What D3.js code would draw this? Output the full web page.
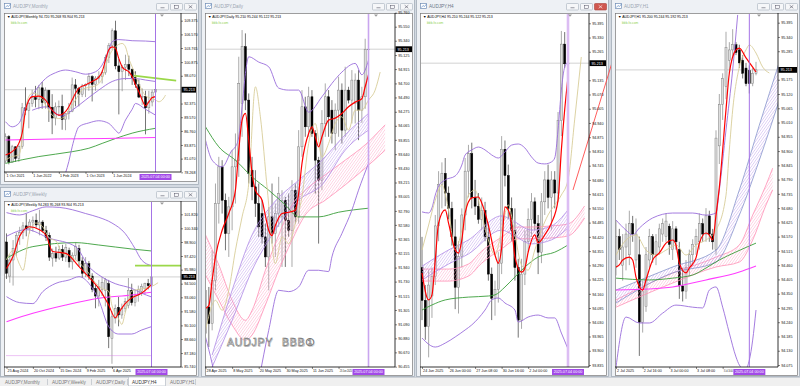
<!DOCTYPE html>
<html>
<head>
<meta charset="utf-8">
<script src="https://cdn.jsdelivr.net/npm/d3@7"></script>
<style>
body { margin: 0; background: #d3d9e1; overflow: hidden; }
</style>
</head>
<body>
<script>
// values
var bid = 95.213;
var nowLabel = "2025.07.04 00:00";
var tagText = "bbb-fx.com";

// ---- Monthly  [open, high, low, close]
var mnCandles = [
  [80.6,86.25,80.1,85.6],[85.6,85.9,79.9,80.3],[80.3,83.9,80.3,83.5],[83.5,83.6,80.4,81.1],
  [81.1,84.0,80.4,83.6],[83.6,92.5,83.1,91.5],[91.5,95.7,90.0,91.0],[91.0,92.7,87.3,92.4],
  [92.4,95.2,91.7,93.6],[93.6,96.0,91.6,93.2],[93.2,96.2,91.2,95.6],[95.6,96.8,91.3,92.6],
  [92.6,95.7,91.3,95.1],[95.1,95.2,88.6,91.6],[91.6,94.3,86.1,89.4],[89.4,92.6,87.9,91.7],
  [91.7,93.0,89.8,91.8],[91.8,94.2,87.0,89.1],[89.1,90.4,86.9,90.3],[90.3,92.5,89.1,90.8],
  [90.8,97.7,90.6,96.2],[96.2,97.4,91.8,95.5],[95.5,95.8,91.8,94.3],[94.3,96.4,93.7,96.0],
  [96.0,96.5,93.7,96.3],[96.3,98.6,95.0,97.9],[97.9,98.2,92.8,96.3],[96.3,98.0,95.0,97.6],
  [97.6,99.0,96.6,97.9],[97.9,99.2,96.5,98.7],[98.7,102.4,98.3,101.8],[101.8,104.8,100.7,104.3],
  [104.3,107.8,103.3,107.3],[107.3,109.37,99.4,100.1],[100.1,101.5,90.15,98.9],[98.9,100.3,94.9,99.8],
  [99.8,102.4,97.2,100.4],[100.4,102.2,98.0,99.4],[99.4,99.6,96.2,97.7],[97.7,99.0,95.6,96.3],
  [96.3,97.3,93.5,93.7],[93.7,95.5,92.1,93.8],[93.8,95.0,86.05,91.5],[91.5,95.0,90.3,92.7],
  [92.7,95.2,91.8,94.72],[94.72,95.268,93.904,95.213]
];
var mnTicks = [109.375,106.570,103.765,100.875,98.070,95.265,92.375,89.570,86.760,83.875,81.070,78.268];
var mnDates = [[0,"1 Oct 2021"],[8,"1 Jun 2022"],[16,"1 Feb 2023"],[24,"1 Oct 2023"],[32,"1 Jun 2024"]];
var mnRed = [[0,81.8],[2,82.5],[4,84.2],[5,86.3],[6,91.0],[7,93.1],[8,93.8],[10,93.9],[12,93.1],[14,91.0],[16,90.0],[17,90.2],[18,90.7],[19,91.7],[20,93.1],[21,94.5],[22,95.5],[24,96.2],[26,96.9],[28,97.8],[29,98.9],[30,101.3],[31,103.4],[32,104.0],[33,103.7],[34,101.6],[35,99.9],[36,99.3],[37,98.9],[38,97.9],[39,96.2],[40,94.8],[41,93.1],[42,91.9],[43,92.7],[44,93.6],[45,93.8]];
var mnTan = [[0,80.8],[2,81.5],[4,81.8],[5,84.9],[6,91.0],[7,93.8],[8,94.5],[10,94.1],[12,92.1],[14,90.0],[16,89.3],[18,89.7],[19,91.0],[21,93.1],[23,95.2],[25,95.7],[27,96.0],[29,97.5],[31,102.0],[33,104.0],[35,104.7],[36,104.0],[37,101.6],[38,99.9],[39,98.2],[40,96.5],[41,95.0],[42,94.0],[43,93.6],[44,93.4],[45,93.1],[46,92.75],[47,93.1],[48,94.1]];
var mnBandUp = [[0,88.65],[2,87.6],[4,88.3],[6,91.7],[8,94.1],[10,96.0],[12,97.5],[15,98.7],[18,99.25],[21,98.9],[24,98.4],[27,98.9],[29,100.3],[31,103.4],[32,105.07],[34,105.5],[38,105.27],[42,105.2],[45,105.07]];
var mnBandMid = [[8,91.0],[12,91.7],[17,89.8],[20,91.0],[24,93.1],[28,95.15],[32,96.9],[36,97.5],[39,97.5],[42,97.2],[45,96.9]];
var mnBandLow = [[18,78.1],[19,80.5],[20,83.5],[21,86.0],[22,87.6],[25,88.4],[28,88.85],[31,88.3],[33,86.9],[34,86.3],[36,89.0],[38,91.2],[39,92.4],[42,91.2],[45,90.0]];
var mnGreen = [[0,80.1],[10,81.5],[20,82.5],[25,83.2],[29,84.2],[33,85.2],[38,86.3],[45,87.3]];
var mnPink = [[0,84.9],[15,85.1],[30,85.2],[45,85.4]];
var mnLevel = [[38.5,98.1],[51.2,97.1]];

// ---- Weekly
var wkCandles = [
  [98.9,99.8,95.0,95.6],[95.3,97.6,94.6,97.0],[97.0,99.1,94.3,98.2],[97.9,99.9,97.4,99.6],
  [99.6,100.5,98.6,99.9],[99.9,101.0,99.2,100.6],[100.6,101.9,99.5,100.3],[100.3,101.3,99.8,101.0],
  [101.0,101.6,100.0,101.2],[101.2,101.9,100.4,100.7],[100.7,102.3,99.6,101.0],[101.0,101.2,99.9,100.1],
  [100.1,100.6,99.0,99.4],[99.6,99.9,96.9,97.3],[97.2,98.2,96.3,97.7],[97.7,98.4,96.8,97.2],
  [97.2,98.5,97.0,98.1],[98.1,98.6,96.9,97.3],[97.3,98.7,96.8,98.3],[98.0,98.3,96.2,96.8],
  [96.8,97.8,96.0,97.5],[97.5,98.9,97.0,98.4],[98.2,98.6,96.3,96.9],[96.9,97.3,95.1,95.6],
  [95.6,97.3,95.2,96.6],[96.6,96.9,94.9,95.3],[95.3,95.6,93.6,93.9],[94.0,94.4,91.9,93.2],
  [93.2,94.9,92.1,94.2],[93.9,95.2,93.2,94.6],[93.8,95.1,92.1,94.9],[94.5,94.9,87.7,88.9],
  [88.7,91.6,86.05,91.0],[90.8,92.3,90.3,91.9],[92.0,93.1,90.0,91.2],[91.2,92.4,90.8,91.9],
  [91.9,93.0,91.5,92.6],[92.2,95.1,91.9,93.8],[93.8,94.5,92.2,92.5],[92.5,93.9,92.1,93.3],
  [93.3,94.3,92.6,93.9],[93.7,94.5,93.2,94.2],[94.0,94.6,93.4,94.5],[94.5,95.0,93.9,94.28],
  [94.283,95.268,93.904,95.213]
];
var wkTicks = [101.820,100.340,98.900,97.420,95.980,94.500,93.060,91.580,90.100,88.660,87.180,85.740];
var wkDates = [[0,"25 Aug 2024"],[8,"20 Oct 2024"],[16,"15 Dec 2024"],[24,"9 Feb 2025"],[32,"6 Apr 2025"]];
var wkRed = [[0,96.1],[2,97.4],[4,99.5],[7,100.5],[10,100.2],[12,99.6],[14,97.9],[18,97.7],[22,96.3],[25,95.2],[28,94.0],[31,92.25],[33,90.9],[34,91.4],[36,92.4],[38,93.0],[41,93.5],[44,94.4]];
var wkTan = [[0,97.0],[2,98.0],[4,96.5],[5,95.9],[7,100.0],[9,100.9],[11,100.5],[13,99.3],[15,99.0],[17,97.7],[19,97.5],[21,97.0],[23,96.4],[25,95.6],[27,94.6],[29,94.0],[31,93.7],[32,92.2],[34,90.8],[35,90.2],[36,91.4],[38,93.7],[40,93.9],[42,94.0],[44,94.2],[46,94.6]];
var wkBandUp = [[0,102.0],[4,101.75],[8,102.2],[12,102.6],[16,102.55],[20,102.3],[24,101.9],[28,101.5],[32,100.9],[36,99.8],[39,98.2],[41,97.0],[44,96.4]];
var wkBandMid = [[0,99.5],[6,100.2],[13,99.3],[21,98.4],[25,96.3],[29,95.2],[33,94.5],[38,94.0],[41,93.5],[44,93.1]];
var wkBandLow = [[0,93.13],[4,92.5],[8,92.4],[11,93.66],[15,94.54],[19,94.89],[22,95.24],[25,94.54],[28,92.78],[31,89.97],[34,89.19],[38,89.19],[41,89.61],[44,89.97]];
var wkGreen = [[0,97.18],[8,98.41],[21,98.83],[28,98.58],[38,98.16],[44,97.95]];
var wkPink = [[0,90.49],[8,91.37],[18,92.25],[28,92.96],[38,93.31],[44,93.59]];
var wkLevel = [[39,96.4],[53,96.4]];
var wkFloor = [[0,86.91],[44,86.91]];

// ---- Daily
var dyCandles = [
  [90.95,92.0,90.75,91.6],[91.35,91.65,90.75,91.1],[91.1,92.2,91.0,91.75],[91.75,93.2,91.6,92.9],
  [92.9,93.6,92.6,93.45],[93.45,93.55,92.75,92.95],[92.95,93.05,92.2,92.45],[92.45,93.0,92.1,92.85],
  [92.85,93.7,92.5,93.45],[93.45,93.95,92.9,93.55],[93.55,95.1,93.3,94.7],[94.4,95.5,93.9,95.25],
  [95.25,95.45,94.3,94.45],[94.45,94.55,93.2,93.35],[93.4,93.6,92.95,93.15],[93.15,93.4,92.7,92.9],
  [92.9,93.2,92.4,92.55],[92.75,92.95,92.3,92.4],[92.4,92.6,91.95,92.1],[92.1,92.85,91.6,92.7],
  [92.7,93.2,92.3,92.45],[92.45,92.9,92.1,92.75],[92.75,93.3,92.55,93.05],[92.7,93.1,91.95,92.95],
  [92.95,93.0,91.95,92.65],[92.65,93.05,92.4,92.5],[92.5,93.25,91.95,93.1],[93.1,93.2,92.6,92.7],
  [92.7,94.0,92.6,93.75],[93.75,94.6,93.6,94.35],[94.35,94.5,93.9,94.05],[94.05,94.65,93.9,94.5],
  [94.5,94.6,93.9,93.95],[93.95,94.0,93.05,93.55],[93.55,93.6,92.3,93.25],[93.25,94.3,93.1,94.1],
  [94.1,94.7,93.9,94.5],[94.5,94.6,93.9,94.2],[94.3,94.45,93.8,93.95],[93.95,94.4,93.7,94.3],
  [94.3,94.8,93.9,94.6],[94.6,94.7,93.8,94.0],[94.0,94.95,93.9,94.6],[94.6,94.65,94.4,94.45],
  [94.45,94.9,94.1,94.75],[94.4,94.85,94.1,94.75],[94.75,94.9,93.85,94.3],[94.3,94.65,94.11,94.5],
  [94.5,95.37,94.32,95.21],[95.210,95.244,95.122,95.213]
];
var dyTicks = [95.760,95.550,95.340,95.125,94.915,94.700,94.490,94.275,94.065,93.855,93.640,93.430,93.215,93.005,92.790,92.580,92.365,92.155,91.940,91.730,91.515,91.305,91.090,90.880,90.670,90.455];
var dyDates = [[0,"28 Apr 2025"],[8,"8 May 2025"],[16,"20 May 2025"],[24,"30 May 2025"],[32,"11 Jun 2025"],[40,"23 Jun 2025"]];
var dyRed = [[0,91.33],[1,91.37],[2,91.75],[3,92.1],[5,92.5],[7,92.75],[9,93.1],[10,93.7],[11,94.15],[12,94.25],[13,93.85],[14,93.35],[15,93.1],[17,92.95],[18,92.72],[19,92.5],[20,92.42],[21,92.57],[23,92.75],[25,92.77],[27,92.8],[28,93.05],[29,93.5],[31,93.95],[32,94.05],[33,93.9],[34,93.75],[35,93.9],[37,94.15],[39,94.18],[41,94.25],[43,94.35],[45,94.42],[47,94.47],[48,94.65],[49,94.83]];
var dyTan = [[0,91.0],[3,91.45],[5,91.3],[7,91.6],[9,92.2],[11,92.7],[13,93.2],[15,94.65],[16.5,94.2],[18.6,93.1],[21,92.0],[23,92.4],[25,92.3],[27,92.6],[29,93.0],[31,93.8],[33,94.1],[35,93.6],[37,93.8],[39,94.1],[41,94.2],[43,94.0],[45,94.3],[47,94.3],[49,94.45],[51,94.6],[52.5,94.87]];
var dyBandUp = [[0,93.85],[2,93.55],[5,93.45],[8,93.7],[9,93.75],[10,93.9],[11,94.35],[12,94.85],[13,95.1],[16,95.02],[19,94.95],[22,94.63],[25,94.6],[28,94.6],[31,94.27],[35,94.5],[38,94.7],[41,94.87],[45,95.0],[47,94.83],[49,95.05]];
var dyBandLow = [[0,90.9],[2,90.5],[4,90.0],[8,89.5],[12,89.3],[16,90.25],[19,91.0],[22,91.6],[25,91.58],[28,91.65],[31,91.9],[34,91.9],[37,91.88],[38,92.1],[41,92.45],[44,92.8],[46,93.1],[49,93.5]];
var dyGreen = [[0,94.05],[4,93.75],[9,93.55],[14,93.3],[19,93.1],[24,92.88],[28,92.7],[34,92.7],[40,92.77],[49,92.83]];
// ribbons: [index, upper edge, lower edge]
var dyPurpleFan = [[2,90.63,90.45],[8,91.6,91.15],[14,92.43,91.9],[20,92.88,92.43],[28,93.25,92.95],[35,93.55,93.18],[42,93.93,93.7],[49,94.25,94.0]];
var dyPinkFan = [[0,92.43,91.83],[4,91.98,91.45],[8,91.45,91.08],[12,91.15,90.85],[14,91.3,90.93],[18,91.9,91.38],[22,92.43,91.9],[26,92.88,92.35],[30,93.1,92.73],[36,93.33,92.95],[42,93.55,93.18],[48,93.78,93.43],[54,94.08,93.7]];

// ---- H4
var h4Candles = [
  [94.28,94.42,94.04,94.13],[94.13,94.20,93.95,94.01],[94.01,94.27,93.87,94.20],[94.15,94.28,94.05,94.24],
  [94.24,94.52,94.20,94.47],[94.47,94.72,94.40,94.66],[94.66,94.76,94.55,94.71],[94.71,94.78,94.56,94.62],
  [94.62,94.65,94.50,94.55],[94.55,94.58,94.38,94.42],[94.42,94.50,94.09,94.19],[94.19,94.40,94.07,94.33],
  [94.33,94.55,94.28,94.52],[94.52,94.78,94.45,94.72],[94.72,94.84,94.60,94.80],[94.80,94.85,94.55,94.60],
  [94.60,94.68,94.52,94.56],[94.56,94.62,94.48,94.50],[94.50,94.60,94.45,94.54],[94.54,94.58,94.40,94.42],
  [94.42,94.48,94.22,94.25],[94.25,94.28,94.04,94.14],[94.14,94.22,94.06,94.18],[94.18,94.35,94.12,94.30],
  [94.30,94.88,94.25,94.82],[94.82,94.86,94.65,94.70],[94.70,94.75,94.50,94.55],[94.55,94.60,94.40,94.45],
  [94.45,94.55,94.22,94.28],[94.28,94.32,93.96,94.04],[94.04,94.32,94.00,94.25],[94.25,94.45,94.20,94.40],
  [94.40,94.55,94.35,94.50],[94.50,94.62,94.42,94.58],[94.58,94.60,94.45,94.48],[94.48,94.52,94.25,94.35],
  [94.35,94.62,94.30,94.58],[94.58,94.72,94.52,94.68],[94.68,94.75,94.55,94.60],[94.60,94.72,94.45,94.68],
  [94.68,94.72,94.55,94.62],[94.62,94.99,94.58,94.95],[94.95,95.36,94.88,95.30],[95.30,95.355,95.19,95.21],
  [95.210,95.244,95.122,95.213]
];
var h4Ticks = [95.395,95.330,95.265,95.200,95.135,95.070,95.005,94.940,94.875,94.810,94.745,94.680,94.615,94.550,94.485,94.420,94.355,94.290,94.225,94.160,94.095,94.030,93.965,93.900,93.835];
var h4Dates = [[0,"24 Jun 2025"],[8,"26 Jun 00:00"],[16,"27 Jun 08:00"],[24,"30 Jun 16:00"],[32,"2 Jul 00:00"]];
var h4BandUp = [[0,94.534],[2,94.529],[3,94.552],[4,94.611],[5,94.652],[7,94.68],[10,94.698],[12,94.748],[13,94.794],[15,94.817],[17,94.83],[19,94.817],[21,94.794],[23,94.78],[25,94.808],[27,94.839],[29,94.844],[31,94.826],[33,94.785],[35,94.757],[37,94.753],[39,94.762],[40,94.78],[41,94.908],[42,95.09],[43,95.195],[44,95.218]];
var h4BandLow = [[0,93.958],[4,93.917],[7,93.935],[10,93.963],[13,93.995],[15,94.018],[19,94.086],[21,94.132],[23,94.141],[25,94.118],[28,94.086],[29,94.031],[32,94.054],[35,94.063],[38,94.05],[40,94.05],[42,93.981],[44,93.908]];
var h4Red = [[0,94.255],[2,94.132],[3,94.155],[4,94.314],[5,94.483],[7,94.543],[8,94.483],[10,94.36],[11,94.346],[12,94.406],[13,94.529],[15,94.598],[17,94.602],[18,94.575],[20,94.474],[22,94.337],[23,94.3],[24,94.37],[25,94.557],[26,94.543],[27,94.474],[28,94.328],[30,94.259],[31,94.277],[32,94.35],[34,94.429],[35,94.393],[37,94.429],[39,94.483],[41,94.588],[42,94.817],[43,95.0],[44,95.15]];
var h4Tan = [[0,94.36],[2,94.474],[4,94.588],[6,94.657],[8,94.543],[10,94.36],[12,94.451],[14,94.611],[16,94.634],[18,94.52],[20,94.406],[22,94.337],[24,94.451],[26,94.566],[28,94.429],[30,94.291],[32,94.268],[34,94.36],[36,94.451],[38,94.52],[40,94.566],[42,94.611],[44,94.68],[46,94.954],[48,95.241]];
var h4Green = [[0,94.086],[3,94.109],[7,94.132],[14,94.145],[20,94.15],[22,94.155],[25,94.191],[28,94.237],[31,94.282],[35,94.328],[40,94.35],[44,94.383]];
var h4PurpleFan = [[0,94.286,94.223],[8,94.36,94.296],[14,94.406,94.342],[24,94.516,94.451],[27,94.497,94.433],[33,94.451,94.388],[39,94.47,94.406],[44,94.543,94.461]];
var h4PinkFan = [[0,94.273,94.218],[8,94.273,94.218],[14,94.296,94.241],[18,94.355,94.3],[24,94.419,94.365],[29,94.465,94.411],[33,94.465,94.411],[39,94.47,94.415],[44,94.479,94.424],[49,94.561,94.506]];
var h4Trend = [[45.5,94.634],[57.5,95.227]];

// ---- H1
var h1Candles = [
  [94.45,94.63,94.42,94.57],[94.57,94.60,94.48,94.52],[94.46,94.58,94.40,94.53],[94.53,94.62,94.44,94.58],
  [94.50,94.67,94.46,94.62],[94.62,94.65,94.55,94.58],[94.48,94.64,94.45,94.58],[94.50,94.57,94.11,94.24],
  [94.24,94.40,94.20,94.36],[94.30,94.53,94.28,94.50],[94.48,94.60,94.45,94.57],[94.57,94.58,94.47,94.50],
  [94.50,94.58,94.46,94.55],[94.53,94.62,94.50,94.60],[94.58,94.64,94.55,94.62],[94.57,94.66,94.55,94.63],
  [94.61,94.62,94.50,94.54],[94.52,94.63,94.48,94.60],[94.60,94.61,94.52,94.55],[94.52,94.55,94.33,94.38],
  [94.38,94.45,94.32,94.36],[94.36,94.48,94.33,94.45],[94.45,94.52,94.42,94.50],[94.50,94.56,94.46,94.54],
  [94.54,94.60,94.50,94.57],[94.55,94.66,94.52,94.62],[94.62,94.64,94.55,94.58],[94.58,94.68,94.55,94.65],
  [94.65,94.67,94.55,94.58],[94.58,94.60,94.52,94.55],[94.52,94.98,94.50,94.95],[94.92,95.12,94.85,95.08],
  [95.08,95.20,95.02,95.18],[95.15,95.36,95.10,95.30],[95.25,95.32,95.20,95.29],[95.29,95.37,95.26,95.31],
  [95.31,95.32,95.27,95.28],[95.29,95.31,95.22,95.24],[95.25,95.27,95.18,95.20],[95.22,95.24,95.15,95.16],
  [95.21,95.23,95.122,95.16],[95.16,95.22,95.15,95.20],[95.200,95.244,95.192,95.213]
];
var h1Ticks = [95.395,95.340,95.285,95.230,95.175,95.120,95.065,95.010,94.955,94.900,94.845,94.790,94.735,94.680,94.625,94.570,94.515,94.460,94.405,94.350,94.295,94.240,94.185,94.130,94.075];
var h1Dates = [[0,"2 Jul 2025"],[8,"2 Jul 16:00"],[16,"3 Jul 00:00"],[24,"3 Jul 08:00"],[32,"3 Jul 16:00"]];
var h1Red = [[0,94.453],[1,94.461],[2,94.48],[4,94.491],[5,94.48],[6,94.414],[8,94.364],[9,94.403],[11,94.48],[13,94.507],[15,94.545],[17,94.557],[18,94.538],[19,94.468],[21,94.43],[22,94.449],[24,94.488],[25,94.545],[27,94.584],[28,94.576],[29,94.557],[30,94.653],[31,94.76],[33,95.06],[34,95.2],[36,95.29],[37,95.297],[39,95.259],[41,95.224],[42,95.205]];
var h1Tan = [[0,94.499],[3,94.557],[6,94.576],[9,94.518],[12,94.499],[15,94.518],[18,94.538],[21,94.499],[24,94.538],[27,94.557],[30,94.595],[33,94.73],[34,94.904],[35,95.058],[37,95.224],[39,95.29],[40,95.309],[42,95.278],[44,95.224],[46,95.201]];
var h1BandUp = [[0,94.634],[3,94.595],[5,94.576],[7,94.603],[11,94.642],[17,94.661],[23,94.661],[27,94.653],[30,94.661],[31,94.75],[33,94.981],[35,95.213],[36.5,95.425]];
var h1BandLow = [[0,94.067],[3,94.26],[7,94.237],[10,94.237],[14,94.275],[18,94.306],[23,94.298],[26,94.295],[28,94.364],[30,94.376],[32,94.298],[34,94.198],[36,94.106],[37,94.075],[38,94.063],[39,94.063],[40,94.094],[41,94.171],[42,94.287]];
var h1Green = [[0,94.41],[10,94.403],[17,94.41],[23,94.422],[27,94.449],[31,94.48],[36,94.511],[42,94.545]];
var h1Pink = [[0,94.364],[10,94.368],[17,94.376],[27,94.403],[37,94.434],[42,94.457]];
var h1PurpleFan = [[0,94.364,94.314],[17,94.453,94.43],[30,94.518,94.472],[37,94.75,94.653],[43,95.0,94.865],[49,95.243,95.097]];
var h1PinkFan = [[0,94.326,94.298],[17,94.43,94.391],[30,94.491,94.453],[37,94.538,94.472],[41,94.653,94.557],[45,94.769,94.692],[47,94.834,94.75]];

var tabNames = ["AUDJPY,Monthly","AUDJPY,Weekly","AUDJPY,Daily","AUDJPY,H4","AUDJPY,H1"];

// ---------------------------------------------------------------
var fmt = d3.format(".3f");
var RED = "#ff0000", TAN = "#d8cd98", BAND = "#9a6ddb", GREEN = "#3a9e3a", MAG = "#ff3cff", LEVEL = "#9bd84a";
var AXIS_FONT = 3.7;

var svg = d3.select("body").append("svg")
  .attr("width", 800).attr("height", 386)
  .attr("font-family", "'Liberation Sans', 'DejaVu Sans', 'Noto Sans CJK JP', sans-serif");
var defs = svg.append("defs");

function hatch(id, color) {
  var p = defs.append("pattern").attr("id", id)
    .attr("width", 2.2).attr("height", 2.2)
    .attr("patternUnits", "userSpaceOnUse")
    .attr("patternTransform", "rotate(35)");
  p.append("line").attr("x1", 0).attr("y1", 0).attr("x2", 0).attr("y2", 2.2)
    .attr("stroke", color).attr("stroke-width", 0.8);
}
hatch("hPurple", "#b894ea");
hatch("hPink", "#ff9cc4");

svg.append("rect").attr("width", 800).attr("height", 386).attr("fill", "#d3d9e1");

var panels = [
  { id: "mn", title: "AUDJPY,Monthly", win: [0, -1, 199, 185], client: [4, 13, 197, 182], plotR: 181, plotB: 172,
    xr: [5.5, 155.5], yd: [109.375, 78.268], yr: [20.7, 172.3], candles: mnCandles, ticks: mnTicks, dates: mnDates,
    sep: 45, sepColor: "#a574e6", sepW: 1,
    ribbons: [],
    lines: [
      { d: mnGreen, c: GREEN, w: 0.9 }, { d: mnPink, c: MAG, w: 1.1 },
      { d: mnBandUp, c: BAND, w: 0.9 }, { d: mnBandMid, c: BAND, w: 0.9 }, { d: mnBandLow, c: BAND, w: 0.9 },
      { d: mnTan, c: TAN, w: 0.9 }, { d: mnRed, c: RED, w: 1.1 }, { d: mnLevel, c: LEVEL, w: 1.8 }
    ] },
  { id: "wk", title: "AUDJPY,Weekly", win: [0, 187, 199, 377], client: [4, 201, 197, 376], plotR: 181, plotB: 367,
    xr: [6.5, 151.5], yd: [101.82, 85.74], yr: [214.3, 366.7], candles: wkCandles, ticks: wkTicks, dates: wkDates,
    sep: 44, sepColor: "#a574e6", sepW: 1,
    ribbons: [],
    lines: [
      { d: wkFloor, c: "#d77ae6", w: 0.9, dash: "1,1" },
      { d: wkGreen, c: GREEN, w: 0.9 }, { d: wkPink, c: MAG, w: 1.1 },
      { d: wkBandUp, c: BAND, w: 0.9 }, { d: wkBandMid, c: BAND, w: 0.9 }, { d: wkBandLow, c: BAND, w: 0.9 },
      { d: wkTan, c: TAN, w: 0.9 }, { d: wkRed, c: RED, w: 1.1 }, { d: wkLevel, c: LEVEL, w: 1.8 }
    ] },
  { id: "dy", title: "AUDJPY,Daily", win: [201, -1, 415, 377], client: [205, 13, 413, 376], plotR: 395, plotB: 367,
    xr: [205.5, 368.5], yd: [95.76, 90.455], yr: [12.7, 366.7], candles: dyCandles, ticks: dyTicks, dates: dyDates,
    sep: 49, sepColor: "#c9a6ef", sepW: 1.6,
    ribbons: [ { d: dyPinkFan, fill: "hPink", edge: "#ff8fb5" }, { d: dyPurpleFan, fill: "hPurple", edge: "#b08ce6" } ],
    lines: [
      { d: dyGreen, c: GREEN, w: 0.9 },
      { d: dyBandUp, c: BAND, w: 0.9 }, { d: dyBandLow, c: BAND, w: 0.9 },
      { d: dyTan, c: TAN, w: 0.9 }, { d: dyRed, c: RED, w: 1.2 }
    ],
    mark: true },
  { id: "h4", title: "AUDJPY,H4", active: true, win: [416, -1, 609, 377], client: [420, 13, 607, 376], plotR: 589, plotB: 367,
    xr: [422, 568], yd: [95.395, 93.835], yr: [23.3, 365], candles: h4Candles, ticks: h4Ticks, dates: h4Dates,
    sep: 44, sepColor: "#dcbdf3", sepW: 2.6,
    ribbons: [ { d: h4PinkFan, fill: "hPink", edge: "#ff8fb5" }, { d: h4PurpleFan, fill: "hPurple", edge: "#b08ce6" } ],
    lines: [
      { d: h4Green, c: GREEN, w: 0.9 },
      { d: h4BandUp, c: BAND, w: 0.9 }, { d: h4BandLow, c: BAND, w: 0.9 },
      { d: h4Tan, c: TAN, w: 0.9 }, { d: h4Red, c: RED, w: 1.2 }
    ],
    trend: h4Trend },
  { id: "h1", title: "AUDJPY,H1", win: [611, -1, 800, 377], client: [615, 13, 798, 376], plotR: 778, plotB: 367,
    xr: [616, 756], yd: [95.395, 94.075], yr: [22.7, 365], candles: h1Candles, ticks: h1Ticks, dates: h1Dates,
    sep: 40, sepColor: "#a574e6", sepW: 1,
    ribbons: [ { d: h1PinkFan, fill: "hPink", edge: "#ff8fb5" }, { d: h1PurpleFan, fill: "hPurple", edge: "#8794cc" } ],
    lines: [
      { d: h1Green, c: GREEN, w: 0.9 }, { d: h1Pink, c: MAG, w: 1.1 },
      { d: h1BandUp, c: BAND, w: 0.9 }, { d: h1BandLow, c: BAND, w: 0.9 },
      { d: h1Tan, c: TAN, w: 0.9 }, { d: h1Red, c: RED, w: 1.2 }
    ] }
];

function drawPanel(p) {
  var win = p.win, cl = p.client, top = win[1];
  var g = svg.append("g");

  // window frame and title bar
  g.append("rect").attr("x", win[0] + 0.5).attr("y", top + 0.5)
    .attr("width", win[2] - win[0] - 1).attr("height", win[3] - top - 1)
    .attr("fill", "#eef1f5").attr("stroke", "#a3adb9").attr("stroke-width", 0.8);
  g.append("rect").attr("x", win[0] + 4.5).attr("y", top + 4.5).attr("width", 6).attr("height", 5)
    .attr("fill", "#fff").attr("stroke", "#6f8db5").attr("stroke-width", 0.7);
  g.append("path").attr("d", "M" + (win[0] + 5.5) + "," + (top + 8.5) + " l1.5,-2 l1.5,1 l2,-2.5")
    .attr("fill", "none").attr("stroke", "#4f7fc0").attr("stroke-width", 0.6);
  g.append("text").attr("x", win[0] + 13).attr("y", top + 9.2)
    .attr("font-size", 4.6).attr("fill", p.active ? "#6a7785" : "#9aa5b1").text(p.title);
  [43, 29, 15].forEach(function (off, k) {
    var bx = win[2] - off, by = top + 4;
    var red = k === 2 && p.active;
    g.append("rect").attr("x", bx + 0.5).attr("y", by + 0.5).attr("width", 12).attr("height", 6.5).attr("rx", 0.8)
      .attr("fill", red ? "#d0574f" : "#f6f7f9").attr("stroke", red ? "#a8423b" : "#a4aebb").attr("stroke-width", 0.6);
    var cx = bx + 6.5, cy = by + 3.75;
    if (k === 0) g.append("line").attr("x1", cx - 2).attr("x2", cx + 2).attr("y1", cy + 1).attr("y2", cy + 1).attr("stroke", "#556").attr("stroke-width", 0.6);
    if (k === 1) g.append("rect").attr("x", cx - 2).attr("y", cy - 1.5).attr("width", 4).attr("height", 3).attr("fill", "none").attr("stroke", "#556").attr("stroke-width", 0.5);
    if (k === 2) g.append("path").attr("d", "M" + (cx - 1.8) + "," + (cy - 1.5) + " l3.6,3 M" + (cx + 1.8) + "," + (cy - 1.5) + " l-3.6,3")
      .attr("stroke", red ? "#fff" : "#556").attr("stroke-width", 0.6);
  });

  // client area
  g.append("rect").attr("x", cl[0] + 0.5).attr("y", cl[1] + 0.5)
    .attr("width", cl[2] - cl[0] - 1).attr("height", cl[3] - cl[1] - 1)
    .attr("fill", "#fff").attr("stroke", "#777").attr("stroke-width", 0.7);

  var x = d3.scaleLinear().domain([0, p.candles.length - 1]).range(p.xr);
  var y = d3.scaleLinear().domain(p.yd).range(p.yr);
  var step = (p.xr[1] - p.xr[0]) / (p.candles.length - 1);
  var bw = step * 0.62;

  defs.append("clipPath").attr("id", "clip-" + p.id).append("rect")
    .attr("x", cl[0] + 1).attr("y", cl[1] + 1)
    .attr("width", p.plotR - cl[0] - 1).attr("height", p.plotB - cl[1] - 1);
  var pg = g.append("g").attr("clip-path", "url(#clip-" + p.id + ")");

  // bid line
  pg.append("line").attr("x1", cl[0]).attr("x2", p.plotR).attr("y1", y(bid)).attr("y2", y(bid))
    .attr("stroke", "#c6c6c6").attr("stroke-width", 0.8);

  // candles
  var cg = pg.selectAll(".candle").data(p.candles).enter().append("g").attr("class", "candle");
  cg.append("line")
    .attr("x1", function (d, i) { return x(i); }).attr("x2", function (d, i) { return x(i); })
    .attr("y1", function (d) { return y(d[1]); }).attr("y2", function (d) { return y(d[2]); })
    .attr("stroke", function (d) { return d[3] >= d[0] ? "#858585" : "#3a3a3a"; })
    .attr("stroke-width", 0.7);
  cg.append("rect")
    .attr("x", function (d, i) { return x(i) - bw / 2; })
    .attr("width", bw)
    .attr("y", function (d) { return y(Math.max(d[0], d[3])); })
    .attr("height", function (d) { return Math.max(0.6, Math.abs(y(d[0]) - y(d[3]))); })
    .attr("fill", function (d) { return d[3] >= d[0] ? "#dedede" : "#000"; })
    .attr("stroke", function (d) { return d[3] >= d[0] ? "#7a7a7a" : "#000"; })
    .attr("stroke-width", 0.45);

  // ribbons
  p.ribbons.forEach(function (r) {
    var area = d3.area().x(function (d) { return x(d[0]); })
      .y0(function (d) { return y(d[2]); }).y1(function (d) { return y(d[1]); })
      .curve(d3.curveMonotoneX);
    pg.append("path").datum(r.d).attr("d", area).attr("fill", "url(#" + r.fill + ")").attr("opacity", 0.9);
    [1, 2].forEach(function (k) {
      var ln = d3.line().x(function (d) { return x(d[0]); }).y(function (d) { return y(d[k]); }).curve(d3.curveMonotoneX);
      pg.append("path").datum(r.d).attr("d", ln).attr("fill", "none").attr("stroke", r.edge).attr("stroke-width", 0.8);
    });
  });

  // indicator lines
  var line = d3.line().x(function (d) { return x(d[0]); }).y(function (d) { return y(d[1]); }).curve(d3.curveMonotoneX);
  p.lines.forEach(function (l) {
    pg.append("path").datum(l.d).attr("d", line).attr("fill", "none")
      .attr("stroke", l.c).attr("stroke-width", l.w).attr("stroke-dasharray", l.dash || null);
  });

  // vertical line at the current bar
  pg.append("line").attr("x1", x(p.sep)).attr("x2", x(p.sep)).attr("y1", cl[1]).attr("y2", p.plotB)
    .attr("stroke", p.sepColor).attr("stroke-width", p.sepW);

  // trend line drawn over the price scale
  if (p.trend) {
    defs.append("clipPath").attr("id", "wclip-" + p.id).append("rect")
      .attr("x", cl[0]).attr("y", cl[1]).attr("width", win[2] - cl[0] + 2).attr("height", p.plotB - cl[1]);
    g.append("path").datum(p.trend).attr("clip-path", "url(#wclip-" + p.id + ")")
      .attr("d", d3.line().x(function (d) { return x(d[0]); }).y(function (d) { return y(d[1]); }))
      .attr("fill", "none").attr("stroke", "#ff4b4b").attr("stroke-width", 0.9);
  }

  // watermark
  if (p.mark) {
    var mg = g.append("g").attr("font-size", 10.5).attr("letter-spacing", 0.8);
    [["AUDJPY", 227], ["BBB\u2460", 282]].forEach(function (t) {
      mg.append("text").attr("x", t[1] + 0.8).attr("y", 346.8).attr("fill", "#c9c9c9").text(t[0]);
      mg.append("text").attr("x", t[1]).attr("y", 346).attr("fill", "#f4f4f4")
        .attr("stroke", "#6f6f6f").attr("stroke-width", 0.5).text(t[0]);
    });
  }

  // axes lines
  g.append("line").attr("x1", p.plotR).attr("x2", p.plotR).attr("y1", cl[1]).attr("y2", p.plotB)
    .attr("stroke", "#000").attr("stroke-width", 0.8);
  g.append("line").attr("x1", cl[0]).attr("x2", p.plotR).attr("y1", p.plotB).attr("y2", p.plotB)
    .attr("stroke", "#000").attr("stroke-width", 0.8);

  // price scale: labels hidden behind the bid box are skipped, as in the terminal
  var shown = p.ticks.filter(function (t) { return Math.abs(y(t) - y(bid)) > 4.5; });
  var ya = d3.axisRight(y).tickValues(shown).tickFormat(fmt).tickSize(2).tickPadding(1.2);
  var yg = g.append("g").attr("transform", "translate(" + p.plotR + ",0)").call(ya);
  yg.attr("font-size", AXIS_FONT).attr("font-family", null).attr("color", "#111");
  yg.select(".domain").remove();
  yg.selectAll("line").attr("stroke-width", 0.5);

  var sx = x(p.sep), boxW = 32;
  var xa = d3.axisBottom(x).tickValues(p.dates.map(function (d) { return d[0]; }))
    .tickFormat(function (v, k) { return p.dates[k][1]; }).tickSize(2).tickPadding(0.6);
  var xg = g.append("g").attr("transform", "translate(0," + p.plotB + ")").call(xa);
  xg.attr("font-size", AXIS_FONT).attr("font-family", null).attr("color", "#111");
  xg.select(".domain").remove();
  xg.selectAll("line").attr("stroke-width", 0.5);
  xg.selectAll("text").attr("text-anchor", "start").attr("dx", 0.6)
    .each(function (v) {
      // squeeze a label that would run under the time box
      var room = (sx - boxW / 2 - 1) - (x(v) + 0.6);
      var len = this.getComputedTextLength();
      if (room > 4 && len > room) {
        d3.select(this).attr("textLength", room).attr("lengthAdjust", "spacingAndGlyphs");
      }
    });

  // bid box
  g.append("rect").attr("x", p.plotR + 0.5).attr("y", y(bid) - 2.9).attr("width", cl[2] - p.plotR - 1.5).attr("height", 5.8)
    .attr("fill", "#000");
  g.append("text").attr("x", p.plotR + 2.5).attr("y", y(bid) + 1.4).attr("font-size", AXIS_FONT).attr("fill", "#fff").text(fmt(bid));

  // current time box
  g.append("rect").attr("x", sx - boxW / 2).attr("y", p.plotB + 2).attr("width", boxW).attr("height", 6).attr("fill", "#a24ae8");
  g.append("text").attr("x", sx).attr("y", p.plotB + 6.3).attr("text-anchor", "middle")
    .attr("font-size", AXIS_FONT).attr("fill", "#fff").text(nowLabel);

  // chart shift marker
  var mx = p.plotR - 19;
  g.append("path").attr("d", "M" + (mx - 2) + "," + (cl[1] + 1.5) + " L" + (mx + 2) + "," + (cl[1] + 1.5) + " L" + mx + "," + (cl[1] + 3.8) + "Z")
    .attr("fill", "#9a9a9a");

  // header
  var last = p.candles[p.candles.length - 1];
  g.append("text").attr("x", cl[0] + 3).attr("y", cl[1] + 5.2).attr("font-size", 3.5).attr("fill", "#000")
    .text("\u25BC " + p.title + "  " + last.map(fmt).join(" "));
  g.append("text").attr("x", cl[0] + 7).attr("y", cl[1] + 11).attr("font-size", 3.3).attr("fill", "#8fd14f").text(tagText);
}

panels.forEach(drawPanel);

// tab bar
var tb = svg.append("g");
tb.append("rect").attr("x", 0).attr("y", 377).attr("width", 800).attr("height", 9).attr("fill", "#f0f0f0");
tb.append("line").attr("x1", 0).attr("x2", 800).attr("y1", 377.5).attr("y2", 377.5).attr("stroke", "#c4c9d0").attr("stroke-width", 0.8);
var tabEdges = [1, 48, 92, 128, 166, 196];
tabNames.forEach(function (name, i) {
  var x0 = tabEdges[i], x1 = tabEdges[i + 1];
  if (i === 3) {
    tb.append("rect").attr("x", x0 + 0.5).attr("y", 377).attr("width", x1 - x0 - 1).attr("height", 9)
      .attr("fill", "#fff").attr("stroke", "#b5bcc6").attr("stroke-width", 0.7);
  } else {
    tb.append("line").attr("x1", x1 - 0.5).attr("x2", x1 - 0.5).attr("y1", 379).attr("y2", 385)
      .attr("stroke", "#b9bec6").attr("stroke-width", 0.7);
  }
  tb.append("text").attr("x", x0 + 4).attr("y", 383.7).attr("font-size", 4.6)
    .attr("fill", i === 3 ? "#333" : "#777").text(name);
});
</script>
</body>
</html>
